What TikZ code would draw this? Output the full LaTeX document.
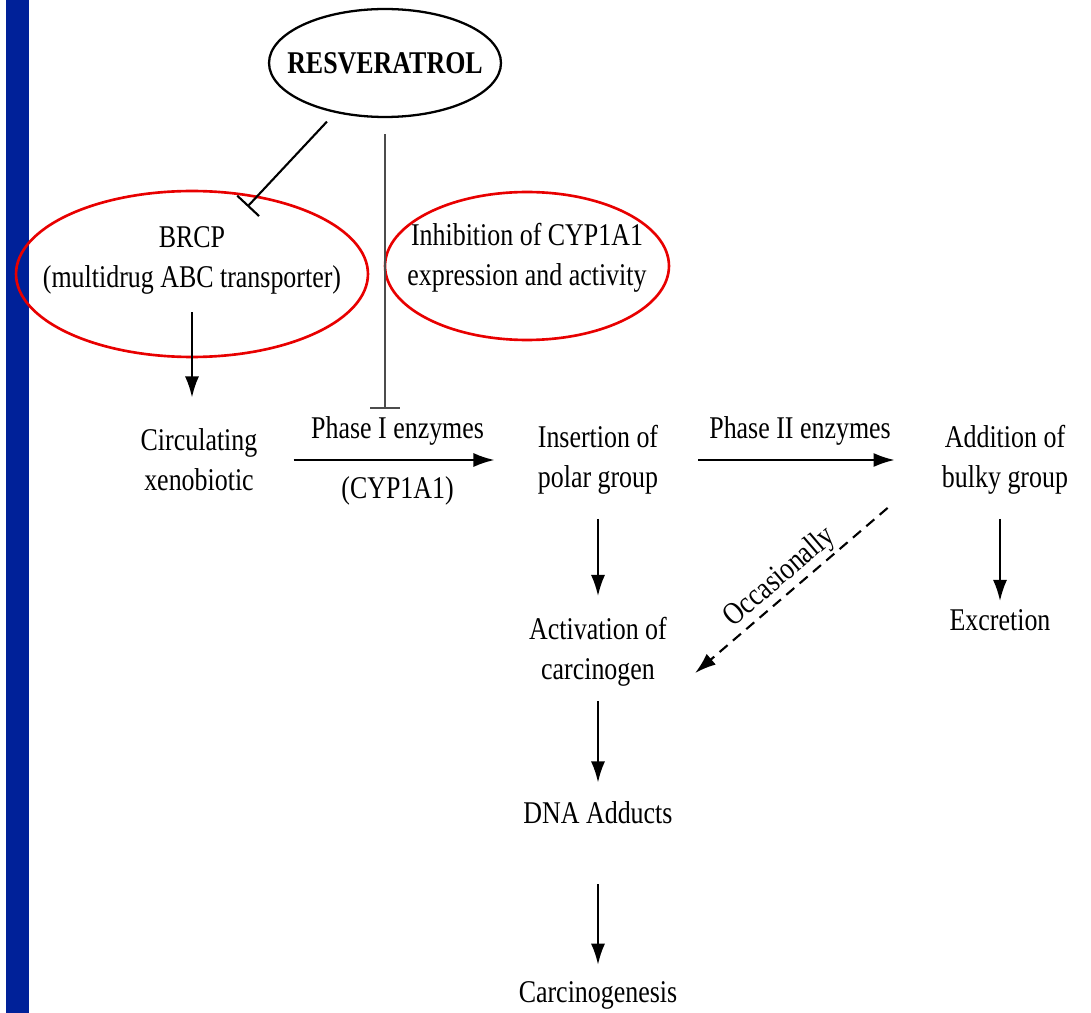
\documentclass[tikz,border=0pt]{standalone}
\usepackage{fontspec}
\setmainfont[FakeStretch=0.82]{Liberation Serif}
\usetikzlibrary{arrows.meta,shapes.geometric}
\definecolor{barblue}{RGB}{0,33,153}
\definecolor{ringred}{RGB}{232,0,0}

\begin{document}
\begin{tikzpicture}[
  x=0.02cm, y=-0.02cm,
  txt/.style={align=center, inner sep=0pt, font=\fontsize{18}{22.8}\selectfont},
  ring/.style={ellipse, draw=ringred, line width=1.5pt, inner sep=0pt},
  arr/.style={line width=1.2pt, -{Latex[length=12pt,width=8pt]}},
  block/.style={line width=1.2pt, -{Bar[width=17pt,line width=1.2pt]}},
  dasharr/.style={arr, dash pattern=on 6pt off 4pt}
]
  \useasboundingbox (0,0) rectangle (1091,1013);

  % Barra lateral azul
  \fill[barblue] (6,0) rectangle (29,1013);

  % Resveratrol y las dos elipses rojas
  \node[ellipse, draw, line width=1.3pt, minimum width=4.64cm, minimum height=2.16cm,
        inner xsep=-9.7pt, inner ysep=0pt, font=\fontsize{18}{20}\selectfont\bfseries] (res) at (385,63) {RESVERATROL};
  \node[ring, minimum width=7.04cm, minimum height=3.32cm] (ring1) at (192,274) {};
  \node[ring, minimum width=5.68cm, minimum height=2.96cm] (ring2) at (527,266) {};
  \node[txt] (brcp) at (192,260) {BRCP\\(multidrug ABC transporter)};
  \node[txt] (inh) at (527,258) {Inhibition of CYP1A1\\expression and activity};

  % Fila del metabolismo
  \node[txt] (circ) at (199,460) {Circulating\\xenobiotic};
  \node[txt] (ins) at (598,460) {Insertion of\\polar group};
  \node[txt] (add) at (1005,460) {Addition of\\bulky group};

  % Columna de abajo
  \node[txt] (act) at (598,652) {Activation of\\carcinogen};
  \node[txt] (exc) at (1000,620) {Excretion};
  \node[txt] (dna) at (598,813) {DNA Adducts};
  \node[txt] (carc) at (598,995) {Carcinogenesis};

  % Flechas horizontales con sus enzimas
  \draw[arr, shorten <=0.72cm, shorten >=0.86cm] (circ) -- (ins)
    node[txt, midway, above=8pt] (ph1) {Phase I enzymes}
    node[txt, midway, below=9pt] (cyp) {(CYP1A1)};
  \draw[arr, shorten <=0.8cm, shorten >=0.94cm] (ins) -- (add)
    node[txt, midway, above=8pt] (ph2) {Phase II enzymes};

  % Inhibiciones
  \draw[block, shorten <=0.24cm, shorten >=-0.3cm] (res.225) -- (ring1.50);
  \draw[block, line width=0.8pt, draw=black!70, shorten <=0.32cm, shorten >=0.12cm]
    (res.south) -- (res.south |- ph1.north);

  % Flechas verticales
  \draw[arr, shorten <=0.36cm, shorten >=0.62cm] (brcp.south) -- (brcp.south |- circ.north);
  \draw[arr, shorten <=0.48cm, shorten >=0.42cm] (ins) -- (act);
  \draw[arr, shorten <=0.48cm, shorten >=0.16cm] (exc.north |- add.south) -- (exc);
  \draw[arr, shorten <=0.28cm, shorten >=0.38cm] (act) -- (dna);
  \draw[arr, shorten <=1.2cm, shorten >=0.32cm] (dna) -- (carc);

  % Flecha discontinua
  \draw[dasharr] ([shift={(-54,13)}]add.south west) -- ([shift={(28,21)}]act.east)
    node[txt, midway, sloped, above=1pt] (occ) {Occasionally};

\end{tikzpicture}
\end{document}
